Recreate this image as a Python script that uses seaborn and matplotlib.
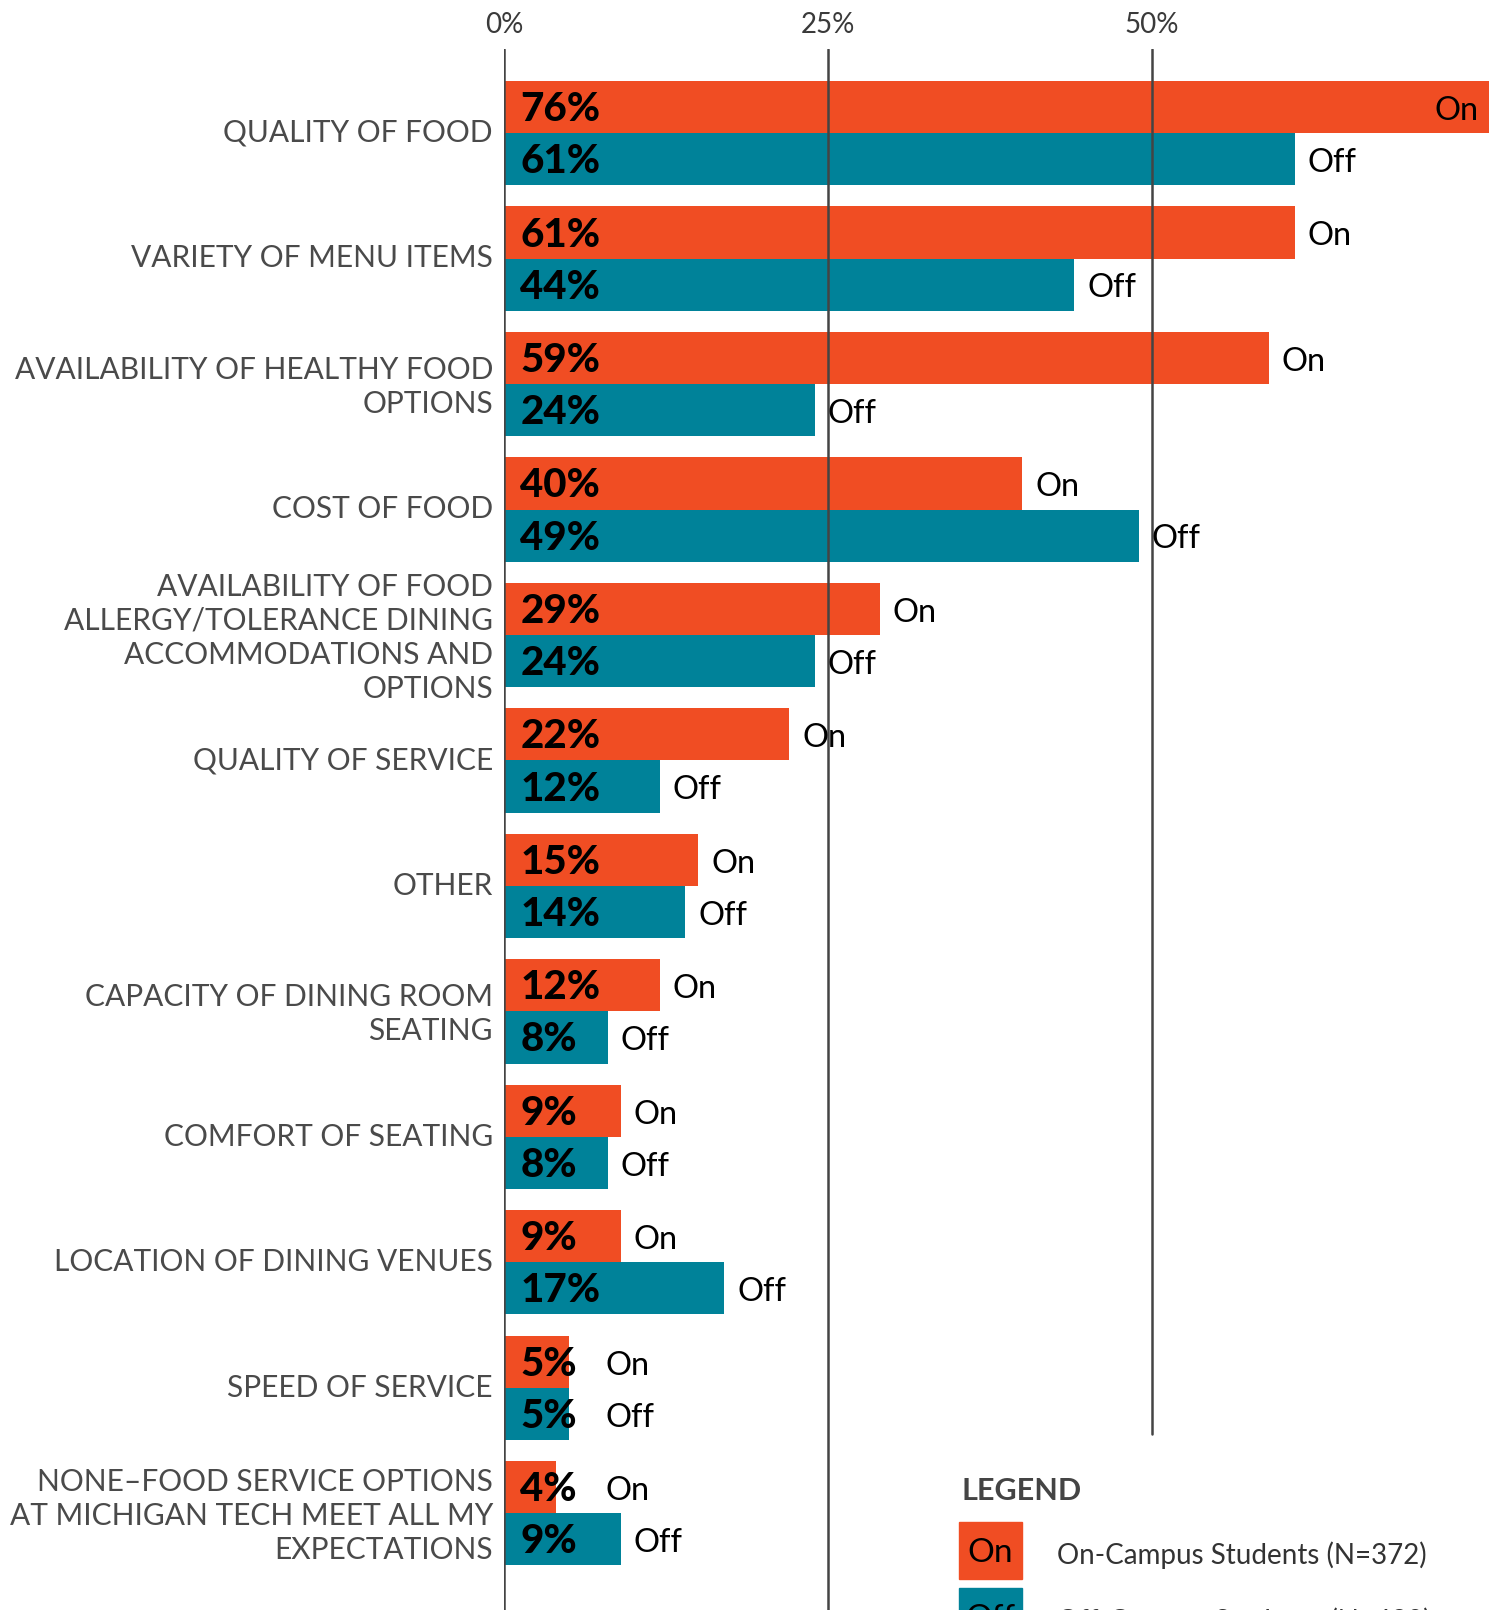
import matplotlib
matplotlib.use("Agg")
import matplotlib.pyplot as plt
from matplotlib.patches import Rectangle
import matplotlib.transforms as mtransforms
import seaborn as sns
import pandas as pd

categories = [
    "QUALITY OF FOOD",
    "VARIETY OF MENU ITEMS",
    "AVAILABILITY OF HEALTHY FOOD\nOPTIONS",
    "COST OF FOOD",
    "AVAILABILITY OF FOOD\nALLERGY/TOLERANCE DINING\nACCOMMODATIONS AND\nOPTIONS",
    "QUALITY OF SERVICE",
    "OTHER",
    "CAPACITY OF DINING ROOM\nSEATING",
    "COMFORT OF SEATING",
    "LOCATION OF DINING VENUES",
    "SPEED OF SERVICE",
    "NONE\u2013FOOD SERVICE OPTIONS\nAT MICHIGAN TECH MEET ALL MY\nEXPECTATIONS",
]
on_campus = [76, 61, 59, 40, 29, 22, 15, 12, 9, 9, 5, 4]
off_campus = [61, 44, 24, 49, 24, 12, 14, 8, 8, 17, 5, 9]
groups = ["On", "Off"]
legend_labels = ["On-Campus Students (N=372)", "Off-Campus Students (N=430)"]
x_ticks = [0, 25, 50]

ORANGE = "#F04D23"
TEAL = "#008299"
GRID = "#444444"

sns.set_theme(style="white")
plt.rcParams["font.family"] = ["Lato", "DejaVu Sans"]

df = pd.DataFrame({
    "category": categories * 2,
    "value": on_campus + off_campus,
    "group": ["On"] * len(categories) + ["Off"] * len(categories),
})

W, H = 1494, 1610
fig = plt.figure(figsize=(W / 100, H / 100), dpi=100)
ax_left, ax_top = 504, 49
ax = fig.add_axes([ax_left / W, 0, (W - ax_left) / W, (H - ax_top) / H])

sns.barplot(
    data=df, y="category", x="value", hue="group", hue_order=groups,
    palette=[ORANGE, TEAL], saturation=1, orient="h", width=0.83,
    linewidth=0, legend=False, ax=ax, order=categories,
)

xmax = 76.39
ax.set_xlim(0, xmax)
ax.set_ylim(11.77, -0.67)
ax.set_xlabel("")
ax.set_ylabel("")
for s in ax.spines.values():
    s.set_visible(False)

# vertical reference lines at 0 / 25 / 50 %
ax.axvline(0, color=GRID, lw=1.8, zorder=3)
ax.axvline(25, color=GRID, lw=1.8, zorder=3)
ax.axvline(50, ymin=(11.77 - (1434 - 133) / 125.45) / (11.77 + 0.67), ymax=1,
           color=GRID, lw=1.8, zorder=3)

ax.xaxis.tick_top()
ax.set_xticks(x_ticks)
ax.set_xticklabels([f"{t}%" for t in x_ticks], color="#3a3a3a", fontsize=20)
ax.tick_params(axis="x", length=0, pad=8)
ax.tick_params(axis="y", length=0, pad=8)
shift_up = mtransforms.ScaledTranslation(0, 2 / 72, fig.dpi_scale_trans)
for lbl in ax.get_yticklabels():
    lbl.set_fontsize(21.5)
    lbl.set_color("#4a4a4a")
    lbl.set_linespacing(1.27)
    lbl.set_multialignment("right")
    lbl.set_transform(lbl.get_transform() + shift_up)

# value labels inside each bar and On/Off tags after each bar
for cont, name in zip(ax.containers, groups):
    for bar in cont:
        v = bar.get_width()
        yc = bar.get_y() + bar.get_height() / 2
        ax.text(1.25, yc + 0.02, f"{v:.0f}%", ha="left", va="center",
                fontsize=29, fontweight="black", color="black", zorder=5)
        tx = max(v + 1.0, 7.8)
        if tx + 4 > xmax:
            ax.text(v - 0.8, yc + 0.03, name, ha="right", va="center",
                    fontsize=23.5, color="black", zorder=5)
        else:
            ax.text(tx, yc + 0.03, name, ha="left", va="center",
                    fontsize=23.5, color="black", zorder=5)

# legend block
fig.text(962 / W, 1 - 1491 / H, "LEGEND", ha="left", va="center",
         fontsize=22, fontweight="bold", color="#444444")
for i, (name, col, desc) in enumerate(zip(groups, [ORANGE, TEAL], legend_labels)):
    top = 1522 + i * 66
    fig.patches.append(Rectangle((959 / W, 1 - (top + 57) / H), 63 / W, 57 / H,
                                 transform=fig.transFigure, color=col,
                                 zorder=2))
    fig.text(990 / W, 1 - (top + 31) / H, name, ha="center", va="center",
             fontsize=24, color="black")
    fig.text(1057 / W, 1 - (top + 33) / H, desc, ha="left", va="center",
             fontsize=20, color="#333333")

fig.savefig("out.png", dpi=100)
